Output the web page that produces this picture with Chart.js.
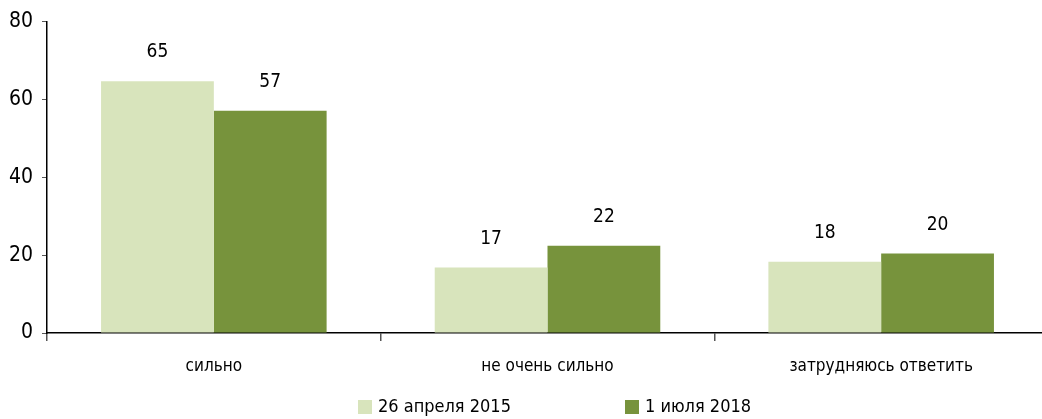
<!DOCTYPE html>
<html>
<head>
<meta charset="utf-8">
<script src="https://cdn.jsdelivr.net/npm/chart.js@4/dist/chart.umd.min.js"></script>
<style>
  html, body { margin: 0; padding: 0; background: #fff; overflow: hidden; }
  #wrap { width: 1048px; height: 419px; position: relative; }
</style>
</head>
<body>
<div id="wrap"><canvas id="c"></canvas></div>
<script>
const categories = ["сильно", "не очень сильно", "затрудняюсь ответить"];
const seriesNames = ["26 апреля 2015", "1 июля 2018"];
const values2015 = [64.7, 16.8, 18.3];
const values2018 = [57.1, 22.4, 20.4];
const yTicks = [0, 20, 40, 60, 80];

const FONT = "'DejaVu Sans Condensed', 'Liberation Sans Narrow', sans-serif";
const colors = ["#d8e4bc", "#77933c"];

const labelPlugin = {
  id: 'valueLabels',
  afterDatasetsDraw(chart) {
    const ctx = chart.ctx;
    ctx.save();
    ctx.fillStyle = '#000';
    ctx.font = "19px " + FONT;
    ctx.textAlign = 'center';
    ctx.textBaseline = 'middle';
    chart.data.datasets.forEach((ds, i) => {
      const meta = chart.getDatasetMeta(i);
      meta.data.forEach((bar, j) => {
        ctx.fillText(String(Math.round(ds.data[j])), bar.x, bar.y - 29);
      });
    });
    ctx.restore();
  }
};

const legendPlugin = {
  id: 'customLegend',
  afterDraw(chart) {
    const ctx = chart.ctx;
    const xs = [358, 625];
    const yc = 407;
    ctx.save();
    ctx.font = "18px " + FONT;
    ctx.textBaseline = 'middle';
    ctx.textAlign = 'left';
    chart.data.datasets.forEach((ds, i) => {
      ctx.fillStyle = ds.backgroundColor;
      ctx.fillRect(xs[i], yc - 7, 14, 14);
      ctx.fillStyle = '#000';
      ctx.fillText(ds.label, xs[i] + 20, yc);
    });
    ctx.restore();
  }
};

new Chart(document.getElementById('c'), {
  type: 'bar',
  data: {
    labels: categories,
    datasets: [
      { label: seriesNames[0], data: values2015, backgroundColor: colors[0], barPercentage: 1.0, categoryPercentage: 0.676 },
      { label: seriesNames[1], data: values2018, backgroundColor: colors[1], barPercentage: 1.0, categoryPercentage: 0.676 }
    ]
  },
  options: {
    responsive: true,
    maintainAspectRatio: false,
    animation: false,
    layout: { padding: { top: 19, right: 0, left: 0, bottom: 0 } },
    plugins: { legend: { display: false }, tooltip: { enabled: false } },
    scales: {
      x: {
        offset: true,
        grid: { display: true, drawOnChartArea: false, drawTicks: true, tickLength: 8, color: '#555', lineWidth: 1.5, offset: true },
        border: { display: true, color: '#000', width: 1.5 },
        ticks: { color: '#000', font: { family: FONT, size: 17 }, padding: 15, maxRotation: 0 },
        afterFit(scale) { scale.height = 86; }
      },
      y: {
        min: 0, max: 80,
        afterBuildTicks(scale) { scale.ticks = yTicks.map(v => ({ value: v })); },
        grid: { display: true, drawOnChartArea: false, drawTicks: true, tickLength: 5, color: '#555', lineWidth: 1 },
        border: { display: true, color: '#000', width: 1.5 },
        ticks: { color: '#000', font: { family: FONT, size: 21 }, padding: 9 },
        afterFit(scale) { scale.width = 47; }
      }
    }
  },
  plugins: [labelPlugin, legendPlugin]
});
</script>
</body>
</html>
